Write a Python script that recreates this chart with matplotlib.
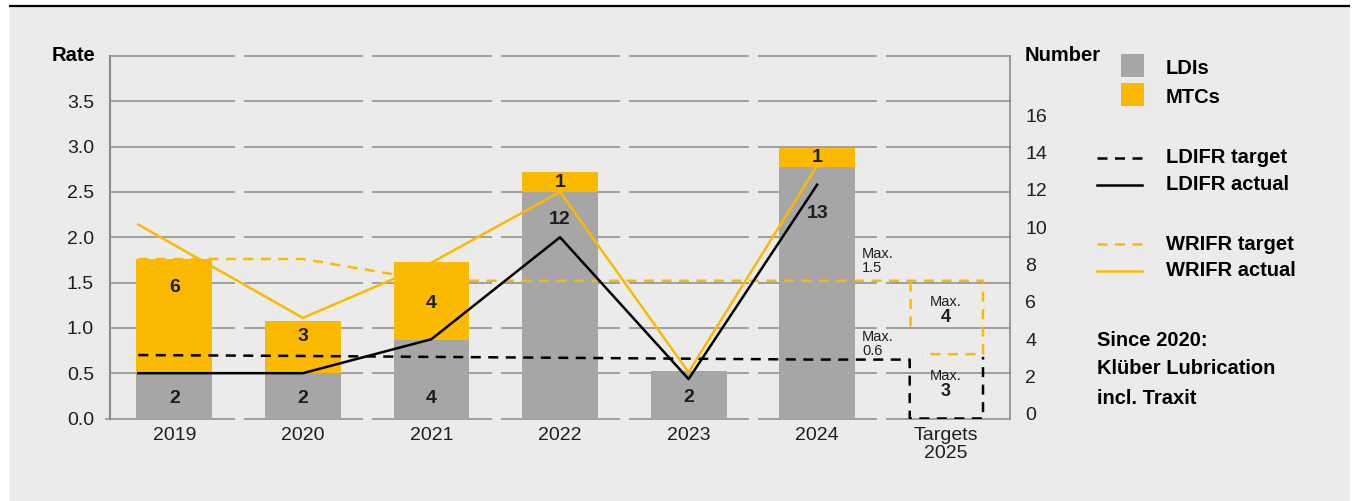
import numpy as np
import matplotlib.pyplot as plt
from matplotlib.patches import Rectangle

plt.rcParams['font.family'] = ['Liberation Sans', 'DejaVu Sans']

# --- data ------------------------------------------------------------------
years = ['2019', '2020', '2021', '2022', '2023', '2024', 'Targets\n2025']

ldi_count = [2, 2, 4, 12, 2, 13]
mtc_count = [6, 3, 4, 1, 0, 1]
# bar heights as drawn (rate scale)
ldi_height = [0.50, 0.50, 0.87, 2.50, 0.52, 2.78]
mtc_height = [1.26, 0.58, 0.86, 0.22, 0.00, 0.21]

ldifr_actual = [0.50, 0.50, 0.875, 2.00, 0.435, 2.58]
wrifr_actual = [2.14, 1.11, 1.72, 2.50, 0.51, 2.79]
ldifr_target = [0.70, 0.69, 0.68, 0.67, 0.66, 0.65]
wrifr_target = [1.76, 1.76, 1.52, 1.52, 1.52, 1.52]

target_ldi_2025 = 3
target_mtc_2025 = 4
target_ldifr_2025 = '0.6'
target_wrifr_2025 = '1.5'

# --- styles / layout --------------------------------------------------------
BG = '#ebebeb'
GRID = '#8a8a8a'
GRAY = '#a6a6a6'
ORANGE = '#fbba00'
TXT = '#1e1e1e'
W = 0.59
LW = 1.8
DASH = (4, 3)
LINE_START = -0.28
BOX_L, BOX_R = 5.72, 6.29
BOLD = 14.5

ldi_label_y = [0.22, 0.22, 0.22, 2.20, 0.23, 2.26]
mtc_label_y = [1.45, 0.90, 1.27, 2.60, 0.0, 2.88]

fig = plt.figure(figsize=(13.55, 5.01), dpi=100, facecolor='white')

# background panel + legend in pixel coordinates
bg = fig.add_axes([0, 0, 1, 1], zorder=-1)
bg.set_xlim(0, 1355)
bg.set_ylim(501, 0)
bg.axis('off')
bg.add_patch(Rectangle((9, 6), 1341, 495, color=BG, lw=0))
bg.plot([9, 1350], [5.5, 5.5], color='black', lw=1.6, solid_capstyle='butt')

ax = fig.add_axes([110 / 1355, 82.5 / 501, 900 / 1355, 362.5 / 501])
ax.set_facecolor('none')
ax.set_xlim(-0.5, 6.5)
ax.set_ylim(0, 4)

# grid with small breaks between categories
for yv in np.arange(0, 4.01, 0.5):
    ax.axhline(yv, color=GRID, lw=1.1, zorder=1, xmin=-0.004 if yv == 0 else 0,
               clip_on=False)
for xb in np.arange(0.5, 6, 1):
    ax.vlines(xb, -0.03, 4.03, color=BG, lw=6.5, zorder=1.5, clip_on=False)

x = np.arange(6)
ax.bar(x, ldi_height, W, color=GRAY, zorder=2)
ax.bar(x, mtc_height, W, bottom=ldi_height, color=ORANGE, zorder=2)

for i in range(6):
    ax.text(x[i], ldi_label_y[i], str(ldi_count[i]), ha='center', va='center',
            fontsize=14, fontweight='bold', color=TXT, zorder=5)
    if mtc_count[i]:
        ax.text(x[i], mtc_label_y[i], str(mtc_count[i]), ha='center', va='center',
                fontsize=14, fontweight='bold', color=TXT, zorder=5)

lx = x.astype(float)
lx[0] = LINE_START

# targets incl. 2025 boxes
ax.plot(list(lx) + [BOX_L, BOX_L, BOX_R, BOX_R],
        ldifr_target + [ldifr_target[-1], 0.0, 0.0, 0.68],
        color='black', lw=LW, dashes=DASH, zorder=3)
ax.plot(list(lx) + [BOX_R, BOX_R, 5.82],
        wrifr_target + [wrifr_target[-1], 0.71, 0.71],
        color=ORANGE, lw=LW, dashes=DASH, zorder=3)
ax.plot([BOX_L, BOX_L], [wrifr_target[-1], 0.99],
        color=ORANGE, lw=LW, dashes=DASH, zorder=3)

ax.plot(lx, wrifr_actual, color=ORANGE, lw=LW, zorder=4)
ax.plot(lx, ldifr_actual, color='black', lw=LW, zorder=4)

ax.text(5.35, 1.74, 'Max.\n' + target_wrifr_2025, fontsize=10.5, color=TXT,
        va='center', ha='left', linespacing=1.05)
ax.text(5.35, 0.82, 'Max.\n' + target_ldifr_2025, fontsize=10.5, color=TXT,
        va='center', ha='left', linespacing=1.05)
ax.text(6, 1.29, 'Max.', fontsize=10.5, color=TXT, ha='center', va='center')
ax.text(6, 1.11, str(target_mtc_2025), fontsize=13, fontweight='bold',
        color=TXT, ha='center', va='center')
ax.text(6, 0.47, 'Max.', fontsize=10.5, color=TXT, ha='center', va='center')
ax.text(6, 0.30, str(target_ldi_2025), fontsize=13, fontweight='bold',
        color=TXT, ha='center', va='center')

ax.set_xticks(range(7))
ax.set_xticklabels(years, linespacing=1.1)
ax.set_yticks(np.arange(0, 3.51, 0.5))
ax.set_yticklabels([f'{v:.1f}' for v in np.arange(0, 3.51, 0.5)])
ax.tick_params(axis='x', length=0, pad=6, labelsize=14, labelcolor=TXT)
ax.tick_params(axis='y', length=0, pad=11.5, labelsize=14, labelcolor=TXT)
for s in ['top', 'bottom']:
    ax.spines[s].set_visible(False)
ax.spines['left'].set_color(GRID)
ax.spines['left'].set_linewidth(1.5)
ax.spines['right'].set_color(GRID)
ax.spines['right'].set_linewidth(1.2)

ax2 = ax.twinx()
ax2.set_ylim(-0.26, 19.17)
ax2.set_yticks(range(0, 17, 2))
ax2.tick_params(axis='y', length=0, pad=11, labelsize=14, labelcolor=TXT)
for s in ax2.spines.values():
    s.set_visible(False)

# axis titles
bg.text(95, 55, 'Rate', ha='right', va='center', fontsize=BOLD,
        fontweight='bold', color='black')
bg.text(1025, 55, 'Number', ha='left', va='center', fontsize=BOLD,
        fontweight='bold', color='black')

# legend
bg.add_patch(Rectangle((1121, 54), 23, 23, color=GRAY, lw=0))
bg.add_patch(Rectangle((1121, 83), 23, 23, color=ORANGE, lw=0))
bg.text(1166, 68, 'LDIs', fontsize=BOLD, fontweight='bold', va='center')
bg.text(1166, 97, 'MTCs', fontsize=BOLD, fontweight='bold', va='center')
legend_lines = [
    (157.5, 'black', DASH, 'LDIFR target'),
    (184.5, 'black', None, 'LDIFR actual'),
    (244, ORANGE, DASH, 'WRIFR target'),
    (271, ORANGE, None, 'WRIFR actual'),
]
for yy, col, dsh, lab in legend_lines:
    kw = {'dashes': dsh} if dsh else {}
    bg.plot([1097, 1142], [yy, yy], color=col, lw=LW, **kw)
    bg.text(1166, yy, lab, fontsize=BOLD, fontweight='bold', va='center')

note = ['Since 2020:', 'Klüber Lubrication', 'incl. Traxit']
for k, line in enumerate(note):
    bg.text(1097, 340 + 29 * k, line, fontsize=BOLD, fontweight='bold',
            va='center', ha='left')

fig.savefig('out.png', dpi=100, facecolor='white')
